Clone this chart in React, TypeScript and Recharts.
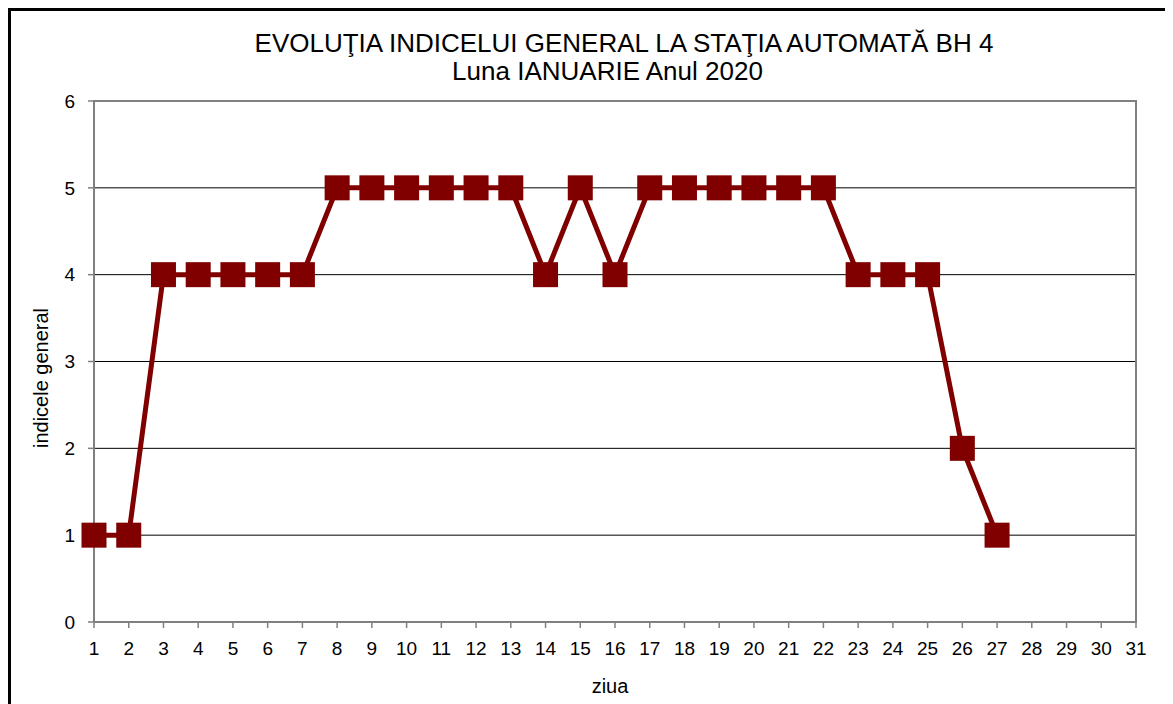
import { LineChart, Line, XAxis, YAxis, CartesianGrid, ReferenceArea } from 'recharts';

// zilele lunii si indicele general (zilele 28-31 fara date)
const days = Array.from({ length: 31 }, (_, i) => String(i + 1));
const indexValues: (number | null)[] = [
  1, 1, 4, 4, 4, 4, 4, 5, 5, 5, 5, 5, 5, 4, 5, 4, 5, 5, 5, 5, 5, 5, 4, 4, 4, 2, 1,
  null, null, null, null,
];
const yTicks = [0, 1, 2, 3, 4, 5, 6];

const titleLine1 = 'EVOLUŢIA INDICELUI GENERAL LA STAŢIA AUTOMATĂ BH 4';
const titleLine2 = 'Luna IANUARIE Anul 2020';

const chartData = days.map((d, i) => ({ day: d, value: indexValues[i] }));

const FONT = '"Liberation Sans", Arial, sans-serif';
const RED = '#800000';
const GRAY = '#808080';

function SquareDot(props: any) {
  const { cx, cy, value, index } = props;
  if (value == null || cx == null || cy == null) return <g key={`d-${index}`} />;
  return <rect key={`d-${index}`} x={cx - 12.5} y={cy - 12.5} width={25} height={25} fill={RED} />;
}

export default function App() {
  return (
    <div
      style={{
        position: 'relative',
        width: 1165,
        height: 696,
        borderTop: '3px solid #000',
        borderLeft: '3px solid #000',
        boxSizing: 'border-box',
        fontFamily: FONT,
        overflow: 'hidden',
      }}
    >
      <div style={{ position: 'absolute', left: 0, top: 19, width: 1226, textAlign: 'center', fontSize: 26, lineHeight: '26px', color: '#000', whiteSpace: 'nowrap' }}>
        {titleLine1}
      </div>
      <div style={{ position: 'absolute', left: 0, top: 47, width: 1193, textAlign: 'center', fontSize: 26, lineHeight: '26px', color: '#000', whiteSpace: 'nowrap' }}>
        {titleLine2}
      </div>
      <div style={{ position: 'absolute', left: 0, top: 665, width: 1198, textAlign: 'center', fontSize: 20, lineHeight: '20px', color: '#000' }}>
        ziua
      </div>
      <div
        style={{
          position: 'absolute',
          left: 30 - 100,
          top: 367 - 10,
          width: 200,
          textAlign: 'center',
          fontSize: 20,
          lineHeight: '20px',
          transform: 'rotate(-90deg)',
          color: '#000',
        }}
      >
        indicele general
      </div>
      <div style={{ position: 'absolute', left: 0, top: 0 }}>
        <LineChart width={1162} height={693} data={chartData} margin={{ top: 90, right: 37, bottom: 52, left: 23 }}>
          <CartesianGrid vertical={false} stroke="#000" strokeWidth={1} horizontalValues={yTicks} />
          <ReferenceArea x1="1" x2="31" y1={0} y2={6} fill="none" stroke={GRAY} strokeWidth={2} ifOverflow="visible" />
          <XAxis
            dataKey="day"
            interval={0}
            height={30}
            axisLine={{ stroke: GRAY, strokeWidth: 2 }}
            tickLine={{ stroke: GRAY, strokeWidth: 1.5 }}
            tickSize={6}
            tickMargin={14}
            tick={{ fill: '#000', fontSize: 19, fontFamily: FONT }}
          />
          <YAxis
            domain={[0, 6]}
            ticks={yTicks}
            width={60}
            axisLine={{ stroke: GRAY, strokeWidth: 2 }}
            tickLine={{ stroke: GRAY, strokeWidth: 1.5 }}
            tickSize={6}
            tickMargin={13}
            tick={{ fill: '#000', fontSize: 19, fontFamily: FONT }}
          />
          <Line
            type="linear"
            dataKey="value"
            stroke={RED}
            strokeWidth={5}
            dot={SquareDot}
            activeDot={false}
            connectNulls={false}
            isAnimationActive={false}
          />
        </LineChart>
      </div>
    </div>
  );
}
